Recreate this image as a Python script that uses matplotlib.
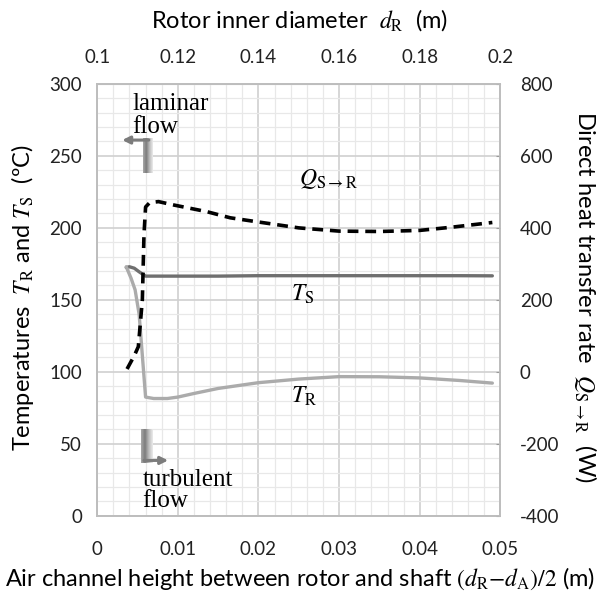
import numpy as np
import matplotlib
matplotlib.use("Agg")
import matplotlib.pyplot as plt
from matplotlib.ticker import MultipleLocator
from matplotlib.colors import LinearSegmentedColormap

plt.rcParams["font.family"] = ["Lato", "DejaVu Sans"]
plt.rcParams["mathtext.fontset"] = "stix"
plt.rcParams["axes.unicode_minus"] = False

# air channel height (m) and results
h_TS = [0.0036, 0.0040, 0.0046, 0.0052, 0.0060, 0.010, 0.015, 0.020, 0.025, 0.030, 0.035, 0.040, 0.045, 0.049]
T_S = [172.5, 173.0, 172.0, 169.5, 166.5, 166.5, 166.5, 166.8, 166.8, 166.8, 166.8, 166.8, 166.8, 166.7]

h_TR = [0.0036, 0.0042, 0.0047, 0.0052, 0.0060, 0.0070, 0.0087, 0.010, 0.012, 0.015, 0.020, 0.025, 0.030, 0.035, 0.040, 0.045, 0.049]
T_R = [173.0, 165.0, 157.0, 140.0, 82.5, 81.5, 81.5, 82.5, 85.0, 88.5, 92.5, 95.0, 96.7, 96.6, 95.8, 94.0, 92.2]

h_Q = [0.0037, 0.0046, 0.0051, 0.0056, 0.0058, 0.0060, 0.0065, 0.0076, 0.0094, 0.0136, 0.0165, 0.0198, 0.025, 0.030, 0.035, 0.040, 0.044, 0.049]
Q_SR = [8, 45, 70, 200, 380, 458, 470, 473, 464, 445, 428, 417, 400, 391, 390, 393, 402, 415]

fig = plt.figure(figsize=(6.0, 5.95), dpi=100)
ax = fig.add_axes([0.162, 0.133, 0.672, 0.726])
ax2 = ax.twinx()

grid_major = "#d0d0d0"
grid_minor = "#e8e8e8"
spine_c = "#bdbdbd"
tick_fs = 13.5
title_fs = 17

ax.set_xlim(0, 0.05)
ax.set_ylim(0, 300)
ax2.set_ylim(-400, 800)

ax.xaxis.set_major_locator(MultipleLocator(0.01))
ax.xaxis.set_minor_locator(MultipleLocator(0.002))
ax.yaxis.set_major_locator(MultipleLocator(50))
ax.yaxis.set_minor_locator(MultipleLocator(10))
ax2.yaxis.set_major_locator(MultipleLocator(200))

ax.grid(which="major", color=grid_major, lw=1.2)
ax.grid(which="minor", color=grid_minor, lw=0.9)
ax.set_axisbelow(True)

ax.xaxis.set_major_formatter(lambda v, p: "0" if abs(v) < 1e-12 else f"{v:g}")

for a in (ax, ax2):
    for s in a.spines.values():
        s.set_color(spine_c)
        s.set_linewidth(1.2)
ax.tick_params(axis="both", which="both", length=0, labelsize=tick_fs, colors="#222222")
ax.tick_params(axis="y", pad=11)
ax.tick_params(axis="x", pad=18)
ax2.tick_params(axis="y", length=3, direction="in", color="#9a9a9a", labelsize=tick_fs,
                labelcolor="#222222", pad=14)

# top axis: rotor inner diameter dR = 0.1 + 2h
top = ax.secondary_xaxis("top", functions=(lambda h: 0.1 + 2 * h, lambda d: (d - 0.1) / 2))
top.set_xticks([0.1, 0.12, 0.14, 0.16, 0.18, 0.2])
top.xaxis.set_major_formatter(lambda v, p: f"{v:g}")
top.tick_params(length=0, labelsize=tick_fs, colors="#222222", pad=13)
top.spines["top"].set_color(spine_c)

# curves
ax.plot(h_TS, T_S, color="#6f6f6f", lw=2.4, solid_capstyle="round", zorder=3)
ax.plot(h_TR, T_R, color="#ababab", lw=2.4, solid_capstyle="round", zorder=3)
ax2.plot(h_Q, Q_SR, color="black", lw=2.6, ls=(0, (3.0, 1.9)), zorder=4)

# curve labels
ax.text(0.0250, 234, r"$Q_{\mathrm{S}\rightarrow\mathrm{R}}$", fontsize=17, ha="left", va="center")
ax.text(0.0240, 154, r"$T_\mathrm{S}$", fontsize=17, ha="left", va="center")
ax.text(0.0240, 83, r"$T_\mathrm{R}$", fontsize=17, ha="left", va="center")

# flow regime markers
shade = LinearSegmentedColormap.from_list("shade", ["#a8a8a8", "#7c7c7c", "#bdbdbd", "#ececec"])
grad = np.linspace(0, 1, 64).reshape(1, -1)
ax.imshow(grad, cmap=shade, extent=(0.0057, 0.0069, 238, 262), aspect="auto", zorder=2)
ax.imshow(grad, cmap=shade, extent=(0.0054, 0.0068, 37, 60), aspect="auto", zorder=2)
ax.annotate("", xy=(0.0031, 261), xytext=(0.0064, 261),
            arrowprops=dict(arrowstyle="-|>", color="#7c7c7c", lw=2.2, mutation_scale=11,
                            shrinkA=0, shrinkB=0), zorder=3)
ax.annotate("", xy=(0.0088, 38.5), xytext=(0.0058, 38.5),
            arrowprops=dict(arrowstyle="-|>", color="#7c7c7c", lw=2.2, mutation_scale=11,
                            shrinkA=0, shrinkB=0), zorder=3)
ax.set_xlim(0, 0.05)
ax.set_ylim(0, 300)

serif = ["Liberation Serif", "DejaVu Serif"]
ax.text(0.0044, 282, "laminar", family=serif, fontsize=18, ha="left", va="baseline")
ax.text(0.0044, 266, "flow", family=serif, fontsize=18, ha="left", va="baseline")
ax.text(0.0056, 21, "turbulent", family=serif, fontsize=18, ha="left", va="baseline")
ax.text(0.0056, 6, "flow", family=serif, fontsize=18, ha="left", va="baseline")

# axis titles
fig.text(0.5, 0.028, r"Air channel height between rotor and shaft $(d_\mathrm{R}{-}d_\mathrm{A})/2$ (m)",
         fontsize=title_fs, ha="center", va="center")
fig.text(0.5, 0.966, r"Rotor inner diameter  $d_\mathrm{R}$  (m)",
         fontsize=title_fs, ha="center", va="center")
fig.text(0.037, 0.5, r"Temperatures  $T_\mathrm{R}$ and $T_\mathrm{S}$  (ºC)",
         fontsize=title_fs, ha="center", va="center", rotation=90)
fig.text(0.975, 0.5, r"Direct heat transfer rate  $Q_{\mathrm{S}\rightarrow\mathrm{R}}$  (W)",
         fontsize=title_fs, ha="center", va="center", rotation=270)

fig.savefig("out.png", dpi=100)
